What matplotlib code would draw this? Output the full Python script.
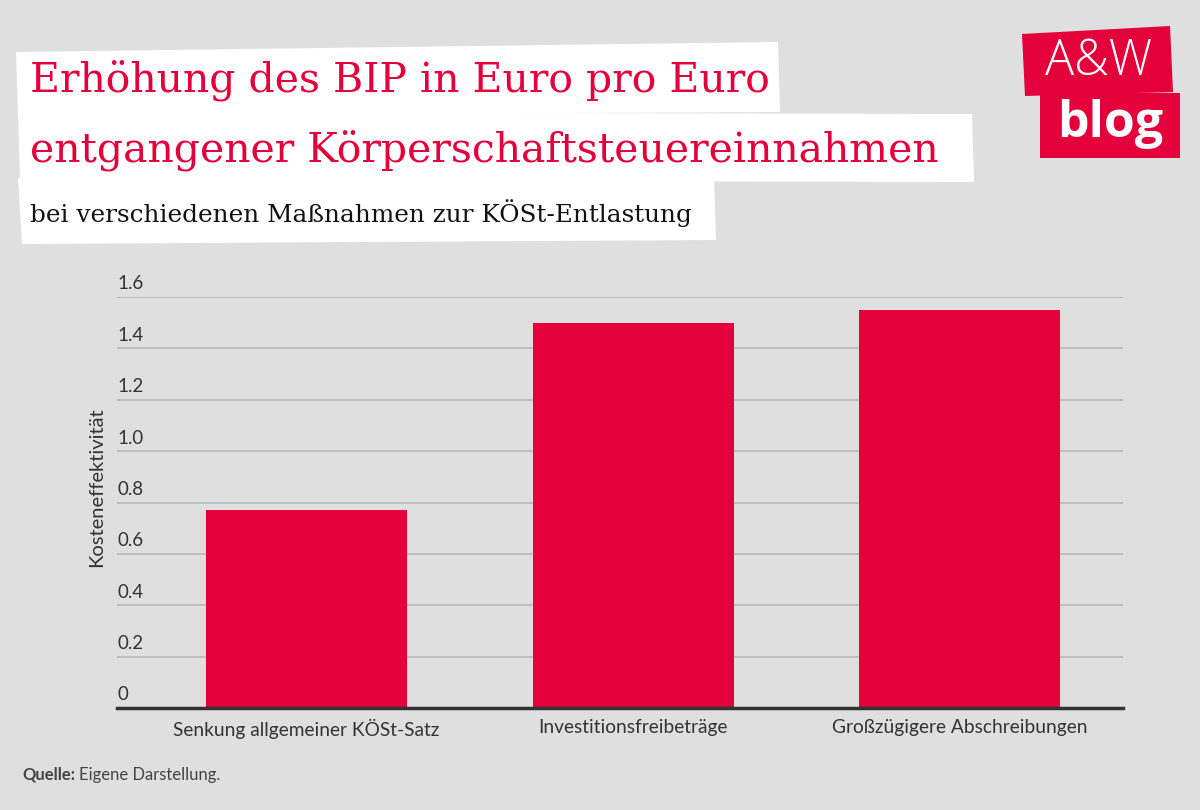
import matplotlib
matplotlib.use("Agg")
import matplotlib.pyplot as plt
from matplotlib.patches import Polygon

categories = ["Senkung allgemeiner KÖSt-Satz", "Investitionsfreibeträge", "Großzügigere Abschreibungen"]
values = [0.77, 1.50, 1.55]
yticks = [0, 0.2, 0.4, 0.6, 0.8, 1.0, 1.2, 1.4, 1.6]
yticklabels = ["0", "0.2", "0.4", "0.6", "0.8", "1.0", "1.2", "1.4", "1.6"]

W, H = 1200, 810
BG = "#dfdfdf"
RED = "#e4003a"
TXT = "#333333"

fig = plt.figure(figsize=(12, 8.1), dpi=100, facecolor=BG)

def px(x, y):
    return (x / W, 1 - y / H)

def poly(pts, color, z=1):
    p = Polygon([px(*q) for q in pts], closed=True, transform=fig.transFigure,
                facecolor=color, edgecolor="none", zorder=z)
    fig.add_artist(p)

# white title boxes
poly([(16, 52), (778, 42), (780, 112), (18, 116)], "white")
poly([(18, 112), (972, 114), (974, 182), (20, 180)], "white")
poly([(18, 178), (714, 176), (716, 240), (22, 244)], "white")

SERIF = "DejaVu Serif"
fig.text(*px(30, 80), "Erhöhung des BIP in Euro pro Euro", color=RED,
         fontsize=29.5, family=SERIF, va="center", ha="left", zorder=3)
fig.text(*px(30, 150), "entgangener Körperschaftsteuereinnahmen", color=RED,
         fontsize=29.5, family=SERIF, va="center", ha="left", zorder=3)
fig.text(*px(30, 213), "bei verschiedenen Maßnahmen zur KÖSt-Entlastung", color="#111111",
         fontsize=17.8, family=SERIF, va="center", ha="left", zorder=3)

# logo
poly([(1022, 34), (1170, 26), (1173, 92), (1025, 96)], RED)
poly([(1040, 92), (1180, 93), (1180, 158), (1040, 158)], RED)
fig.text(*px(1099, 62), "A&W", color="white", fontsize=35,
         family="Open Sans", fontweight="light", va="center", ha="center", zorder=3)
fig.text(*px(1110, 124), "blog", color="white", fontsize=36,
         family="Open Sans", fontweight="bold", va="center", ha="center", zorder=3)

# axes
ax = fig.add_axes([117 / W, 1 - 708 / H, (1123 - 117) / W, (708 - 297) / H])
ax.set_facecolor(BG)
x = list(range(len(categories)))
ax.bar(x, values, width=0.615, color=RED, zorder=2)
ax.set_xlim(-0.58, 2.5)
ax.set_ylim(0, 1.6)
ax.set_yticks(yticks)
ax.set_yticklabels([])
for v, lab in zip(yticks, yticklabels):
    ax.text(0.0, v + 0.018, lab, transform=ax.get_yaxis_transform(), ha="left", va="bottom",
            fontsize=13.5, family="Lato", color=TXT)
ax.tick_params(axis="y", length=0)
ax.grid(axis="y", color="#b8b8b8", linewidth=1.2, zorder=1)
for s in ["top", "right", "left"]:
    ax.spines[s].set_visible(False)
ax.spines["bottom"].set_color(TXT)
ax.spines["bottom"].set_linewidth(2.5)
ax.spines["bottom"].set_zorder(3)
ax.set_xticks(x)
ax.set_xticklabels(categories, fontsize=13.8, family="Lato", color=TXT)
ax.tick_params(axis="x", length=0, pad=8)

fig.text(*px(97, 487), "Kosteneffektivität", rotation=90, fontsize=14.5, family="Lato",
         color=TXT, va="center", ha="center")

q = fig.text(*px(22, 775), "Quelle:", fontsize=12, family="Lato",
             fontweight="bold", color="#444444", va="center", ha="left")
fig.canvas.draw()
bb = q.get_window_extent()
fig.text(bb.x1 / W + 4 / W, px(0, 775)[1], "Eigene Darstellung.", fontsize=12, family="Lato",
         color="#444444", va="center", ha="left")

fig.savefig("out.png", dpi=100, facecolor=BG)
